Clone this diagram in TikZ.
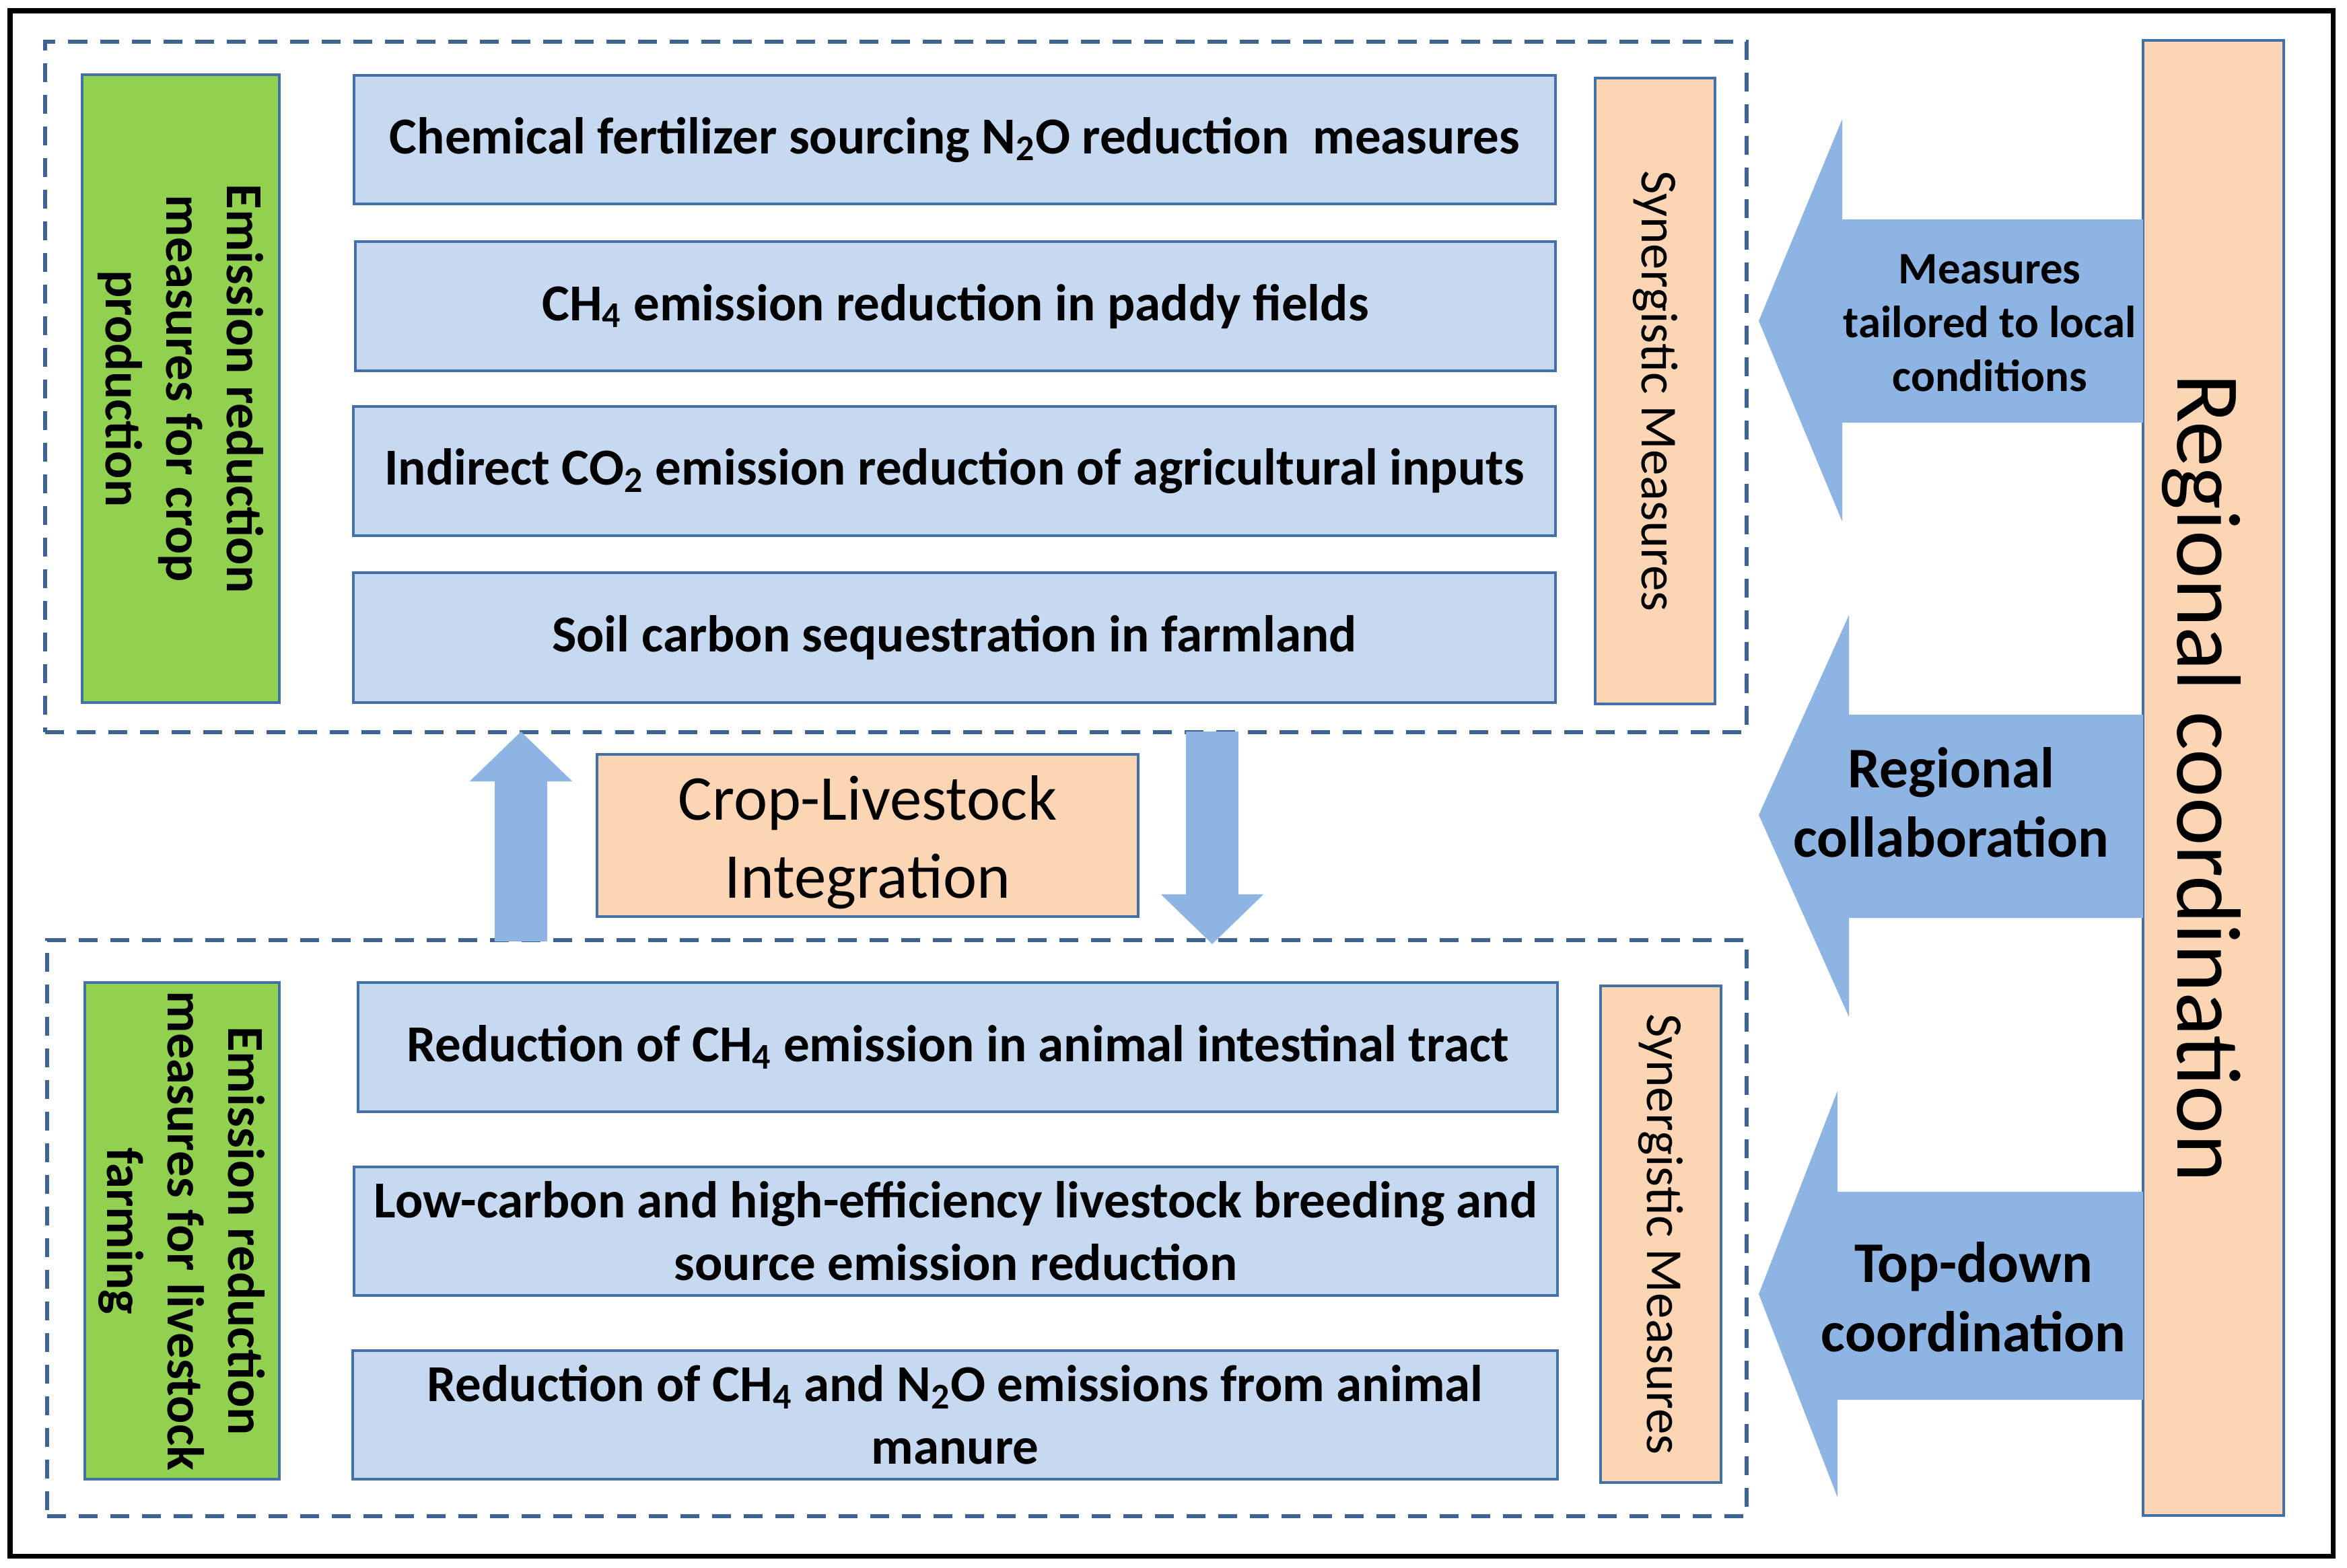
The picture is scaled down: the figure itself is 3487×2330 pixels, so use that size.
\documentclass[tikz,border=0pt]{standalone}
\usepackage{fontspec}
\setmainfont{Carlito}
\usetikzlibrary{arrows.meta,fit}
\definecolor{bluefill}{HTML}{C6D9F1}
\definecolor{boxline}{HTML}{4470A8}
\definecolor{greenfill}{HTML}{92D050}
\definecolor{peach}{HTML}{FCD5B5}
\definecolor{arrowblue}{HTML}{8EB4E3}
\definecolor{dashcol}{HTML}{3F6391}
\tikzset{
  frame/.style={draw=boxline, line width=0.04cm, inner sep=0pt},
  bluebox/.style={frame, fill=bluefill},
  greenbox/.style={frame, fill=greenfill},
  peachbox/.style={frame, fill=peach},
  bluetext/.style={align=center, inner sep=0pt, font=\bfseries\fontsize{21.9}{26.5}\selectfont},
  greentext/.style={rotate=-90, align=center, inner sep=0pt, font=\bfseries\fontsize{21.9}{25.6}\selectfont},
  syntext/.style={rotate=-90, inner sep=0pt, font=\fontsize{21.9}{26}\selectfont},
  dashbox/.style={draw=dashcol, line width=0.06cm, dash pattern=on 0.28cm off 0.19cm, inner sep=0pt},
  bigarrow/.style={fill=arrowblue},
  arrowtextA/.style={align=center, font=\bfseries\fontsize{19}{22.8}\selectfont},
  arrowtextB/.style={align=center, font=\bfseries\fontsize{24.3}{29.3}\selectfont},
  varrow/.style={draw=arrowblue, line width=0.78cm, -{Triangle[width=1.48cm,length=0.74cm]}}
}
\begin{document}
\begin{tikzpicture}[x=0.01cm, y=-0.01cm]
\useasboundingbox (0,0) rectangle (3487,2330);
\fill[white] (0,0) rectangle (3487,2330);
\draw[line width=0.07cm] (15,16) rectangle (3466,2312);

% dashed group boxes
\node[dashbox, fit={(67,62) (2595,1088)}] (crop) {};
\node[dashbox, fit={(70,1397) (2595,2253)}] (live) {};

% crop production group
\node[greenbox, fit={(122,111) (415,1044)}] (g1) {};
\node[greentext] (g1t) at (g1.center) {Emission reduction\\measures for crop\\production};
\node[bluebox, fit={(526,112) (2311,303)}] (b1) {};
\node[bluetext] (b1t) at (b1.center) {Chemical fertilizer sourcing N\textsubscript{2}O reduction~ measures};
\node[bluebox, fit={(528,359) (2311,551)}] (b2) {};
\node[bluetext] (b2t) at (b2.center) {CH\textsubscript{4} emission reduction in paddy fields};
\node[bluebox, fit={(525,604) (2311,796)}] (b3) {};
\node[bluetext] (b3t) at (b3.center) {Indirect CO\textsubscript{2} emission reduction of agricultural inputs};
\node[bluebox, fit={(525,851) (2311,1044)}] (b4) {};
\node[bluetext] (b4t) at (b4.center) {Soil carbon sequestration in farmland};
\node[peachbox, fit={(2370,116) (2548,1046)}] (s1) {};
\node[syntext] (s1t) at (s1.center) {Synergistic Measures};

% livestock group
\node[greenbox, fit={(126,1460) (415,2198)}] (g2) {};
\node[greentext] (g2t) at (g2.center) {Emission reduction\\measures for livestock\\farming};
\node[bluebox, fit={(532,1460) (2314,1652)}] (b5) {};
\node[bluetext] (b5t) at (b5.center) {Reduction of CH\textsubscript{4} emission in animal intestinal tract};
\node[bluebox, fit={(526,1734) (2314,1925)}] (b6) {};
\node[bluetext] (b6t) at (b6.center) {Low-carbon and high-efficiency livestock breeding and\\source emission reduction};
\node[bluebox, fit={(524,2007) (2314,2198)}] (b7) {};
\node[bluetext] (b7t) at (b7.center) {Reduction of CH\textsubscript{4} and N\textsubscript{2}O emissions from animal\\manure};
\node[peachbox, fit={(2378,1465) (2557,2203)}] (s2) {};
\node[syntext] (s2t) at (s2.center) {Synergistic Measures};

% crop-livestock integration
\node[peachbox, fit={(887,1121) (1691,1362)}] (cl) {};
\node[align=center, font=\fontsize{27}{33}\selectfont] (clt) at ([yshift=-0.1cm]cl.center) {Crop-Livestock\\Integration};
\coordinate (upS) at (774,1399);
\coordinate (upE) at (774,1087);
\coordinate (dnS) at (1801,1087);
\coordinate (dnE) at (1801,1403);
\draw[varrow] (upS) -- (upE);
\draw[varrow] (dnS) -- (dnE);

% regional coordination
\node[peachbox, fit={(3184,60) (3393,2252)}] (reg) {};
\node[rotate=-90, font=\fontsize{38.5}{45}\selectfont] (regt) at ([xshift=-0.18cm]reg.center) {Regional coordination};

% big left arrows
\fill[bigarrow] (2613,477) -- (2737,177) -- (2737,326) -- (3184,326) -- (3184,628)
  -- (2737,628) -- (2737,775) -- cycle;
\node[arrowtextA] (a1) at (2956,480) {Measures\\tailored to local\\conditions};
\fill[bigarrow] (2613,1211) -- (2747,914) -- (2747,1062) -- (3184,1062) -- (3184,1364)
  -- (2747,1364) -- (2747,1511) -- cycle;
\node[arrowtextB] (a2) at (2899,1192) {Regional\\collaboration};
\fill[bigarrow] (2613,1923) -- (2730,1621) -- (2730,1771) -- (3184,1771) -- (3184,2080)
  -- (2730,2080) -- (2730,2225) -- cycle;
\node[arrowtextB] (a3) at (2932,1927) {Top-down\\coordination};
\end{tikzpicture}
\end{document}
